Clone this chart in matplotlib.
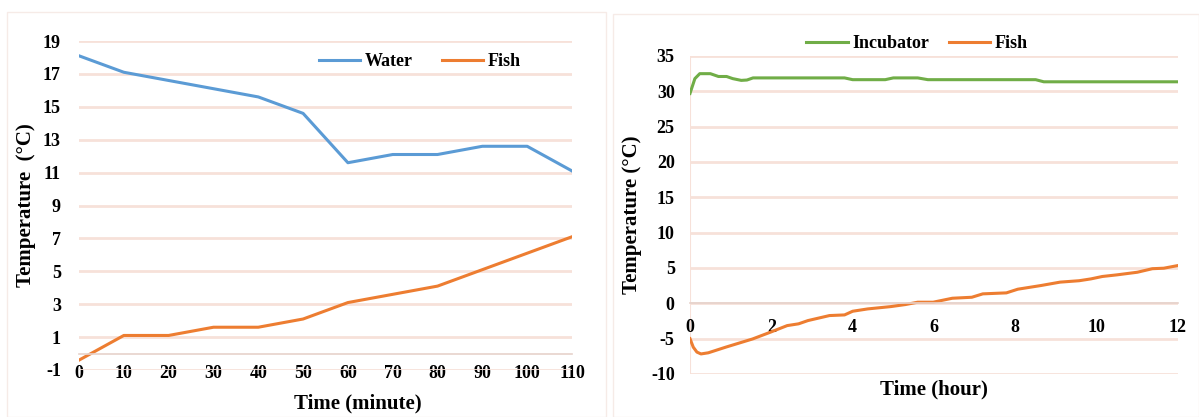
import matplotlib
matplotlib.use("Agg")
import matplotlib.pyplot as plt
from matplotlib.patches import Rectangle

plt.rcParams["font.family"] = ["Liberation Serif", "DejaVu Serif"]
plt.rcParams["font.weight"] = "bold"
plt.rcParams["axes.unicode_minus"] = False

# Left panel: water vs fish temperature over minutes
minutes = [0, 10, 20, 30, 40, 50, 60, 70, 80, 90, 100, 110]
water = [18.1, 17.1, 16.6, 16.1, 15.6, 14.6, 11.6, 12.1, 12.1, 12.6, 12.6, 11.1]
fish_min = [-0.4, 1.1, 1.1, 1.6, 1.6, 2.1, 3.1, 3.6, 4.1, 5.1, 6.1, 7.1]

# Right panel: incubator vs fish temperature over hours
inc_hours = [0, 0.12, 0.24, 0.5, 0.7, 0.9, 1.05, 1.26, 1.4, 1.55, 3.8, 4.0, 4.8,
             5.0, 5.6, 5.85, 8.5, 8.7, 12.0]
incubator = [29.7, 31.8, 32.5, 32.5, 32.1, 32.1, 31.8, 31.55, 31.6, 31.9, 31.9,
             31.65, 31.65, 31.9, 31.9, 31.65, 31.65, 31.35, 31.35]
fish_hours = [0, 0.08, 0.17, 0.27, 0.45, 0.88, 1.54, 1.97, 2.39, 2.67, 2.9, 3.43,
              3.8, 4.0, 4.37, 4.94, 5.3, 5.6, 5.98, 6.45, 6.93, 7.2, 7.78, 8.06,
              8.63, 9.1, 9.57, 9.86, 10.14, 10.5, 11.0, 11.37, 11.65, 12.0]
fish_hr = [-5.0, -6.2, -6.9, -7.16, -7.0, -6.2, -5.04, -4.1, -3.15, -2.9, -2.44,
           -1.73, -1.64, -1.12, -0.79, -0.46, -0.17, 0.16, 0.16, 0.72, 0.86, 1.34,
           1.48, 2.0, 2.52, 3.0, 3.2, 3.46, 3.8, 4.03, 4.4, 4.9, 4.97, 5.35]

BLUE = "#5b9bd5"
ORANGE = "#ed7d31"
GREEN = "#70ad47"
GRID = "#f7e1d9"
AXIS = "#e6d2cb"

W, H = 1199, 417
fig = plt.figure(figsize=(W / 100, H / 100), dpi=100)

# faint panel frames
for x0, y0, x1, y1 in [(7, 12, 606, 417), (613, 14, 1199, 417)]:
    fig.patches.append(Rectangle((x0 / W, 1 - y1 / H), (x1 - x0) / W, (y1 - y0) / H,
                                 transform=fig.transFigure, fill=False,
                                 edgecolor="#f6ebe7", lw=1.0))

TICK_FS = 13
LABEL_FS = 15


def style(ax, xpad, ypad):
    for s in ["top", "right", "left"]:
        ax.spines[s].set_visible(False)
    ax.spines["bottom"].set_position(("data", 0))
    ax.spines["bottom"].set_color(AXIS)
    ax.spines["bottom"].set_linewidth(1.2)
    ax.yaxis.grid(True, color=GRID, lw=2.0)
    ax.set_axisbelow(True)
    ax.tick_params(axis="both", length=0, labelsize=TICK_FS)
    ax.tick_params(axis="x", pad=xpad)
    ax.tick_params(axis="y", pad=ypad)
    for lbl in ax.get_xticklabels() + ax.get_yticklabels():
        lbl.set_fontweight("bold")


# ---- left panel ----
ax1 = fig.add_axes([79 / W, 1 - 370 / H, (572 - 79) / W, (370 - 41) / H])
ax1.plot(minutes, water, color=BLUE, lw=2.2, label="Water", solid_joinstyle="round")
ax1.plot(minutes, fish_min, color=ORANGE, lw=2.2, label="Fish", solid_joinstyle="round")
ax1.set_xlim(0, 110)
ax1.set_ylim(-1, 19)
ax1.set_xticks(minutes)
ax1.set_yticks(range(-1, 20, 2))
style(ax1, xpad=8, ypad=13)
ax1.set_xlabel("Time (minute)", fontsize=LABEL_FS, fontweight="bold", labelpad=0)
ax1.xaxis.set_label_coords(0.565, -0.072)
ax1.set_ylabel("Temperature  (°C)", fontsize=LABEL_FS, fontweight="bold")
ax1.yaxis.set_label_coords(-0.088, 0.5)
ax1.legend(loc="center", bbox_to_anchor=(420 / W, 1 - 62 / H),
           bbox_transform=fig.transFigure, ncol=2, frameon=False,
           prop={"size": 13, "weight": "bold"}, handlelength=2.3,
           handletextpad=0.25, columnspacing=1.6)

# ---- right panel ----
ax2 = fig.add_axes([690 / W, 1 - 374 / H, (1178 - 690) / W, (374 - 56) / H])
ax2.plot(inc_hours, incubator, color=GREEN, lw=2.2, label="Incubator")
ax2.plot(fish_hours, fish_hr, color=ORANGE, lw=2.2, label="Fish")
ax2.set_xlim(0, 12)
ax2.set_ylim(-10, 35)
ax2.set_xticks(range(0, 13, 2))
ax2.set_yticks(range(-10, 36, 5))
style(ax2, xpad=11, ypad=11)
ax2.axvline(0, color=GRID, lw=1.5, zorder=0)
ax2.set_xlabel("Time (hour)", fontsize=LABEL_FS, fontweight="bold",
               bbox=dict(facecolor="white", edgecolor="none", pad=3))
ax2.xaxis.set_label_coords(0.5, -0.017)
ax2.set_ylabel("Temperature (°C)", fontsize=LABEL_FS, fontweight="bold")
ax2.yaxis.set_label_coords(-0.098, 0.5)
ax2.legend(loc="center", bbox_to_anchor=(917 / W, 1 - 44 / H),
           bbox_transform=fig.transFigure, ncol=2, frameon=False,
           prop={"size": 13, "weight": "bold"}, handlelength=2.3,
           handletextpad=0.25, columnspacing=1.1)

fig.savefig("out.png", dpi=100, facecolor="white")
